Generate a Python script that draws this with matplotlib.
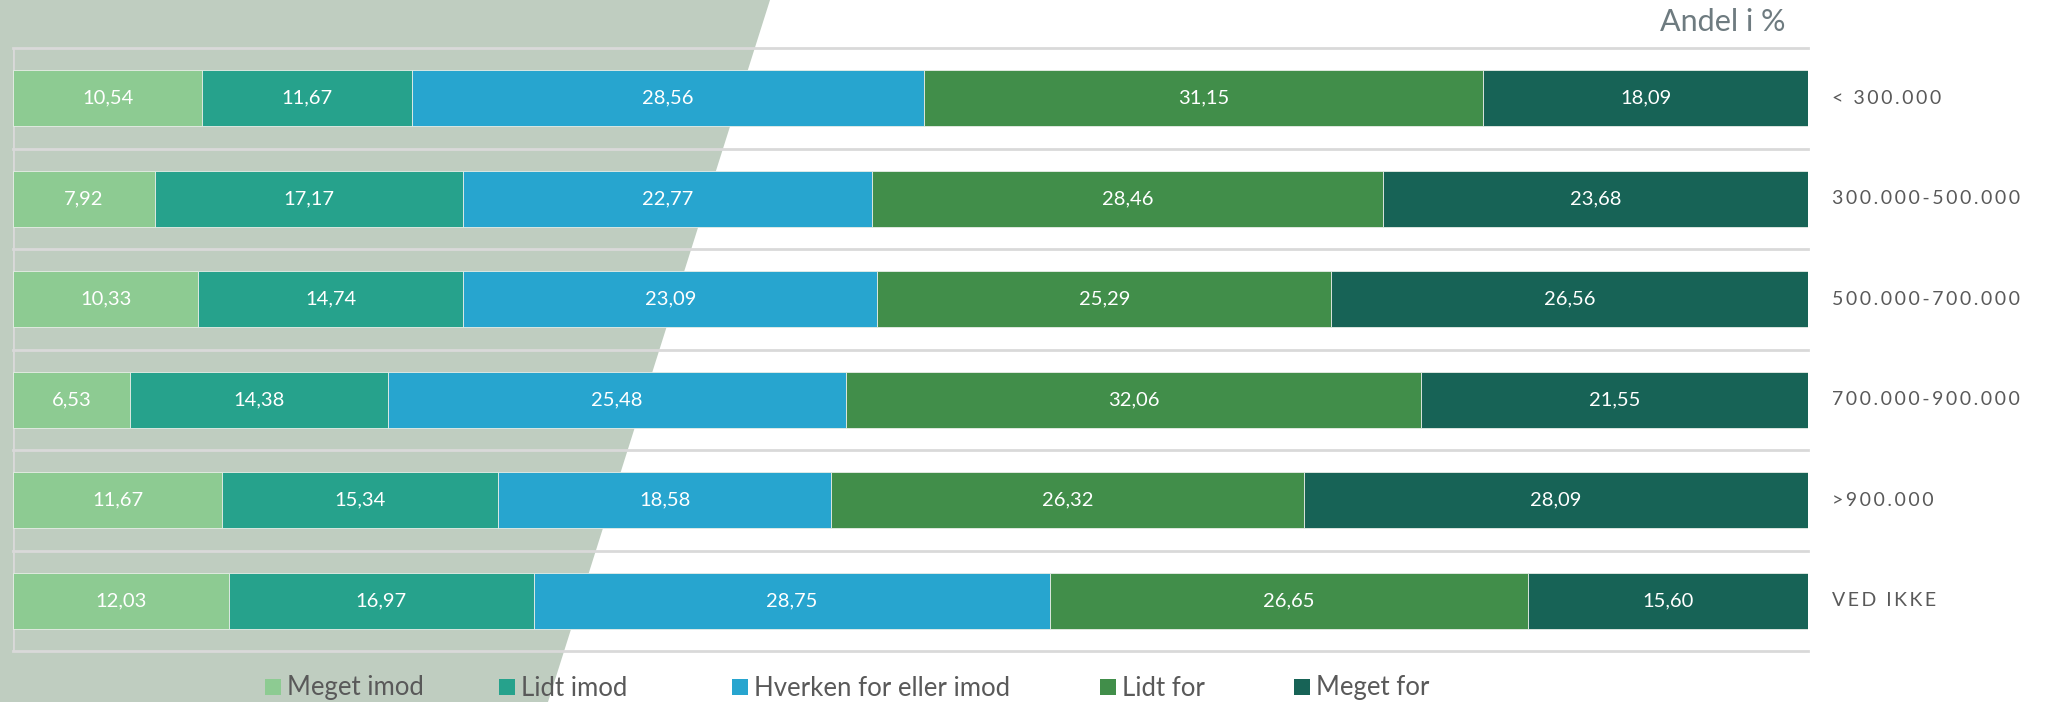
import matplotlib
matplotlib.use("Agg")
import matplotlib.pyplot as plt
from matplotlib.patches import Polygon, Rectangle
import numpy as np

categories = ["< 300.000", "300.000-500.000", "500.000-700.000", "700.000-900.000", ">900.000", "VED IKKE"]
series_names = ["Meget imod", "Lidt imod", "Hverken for eller imod", "Lidt for", "Meget for"]
meget_imod = [10.54, 7.92, 10.33, 6.53, 11.67, 12.03]
lidt_imod = [11.67, 17.17, 14.74, 14.38, 15.34, 16.97]
hverken = [28.56, 22.77, 23.09, 25.48, 18.58, 28.75]
lidt_for = [31.15, 28.46, 25.29, 32.06, 26.32, 26.65]
meget_for = [18.09, 23.68, 26.56, 21.55, 28.09, 15.60]
title = "Andel i %"

series = [meget_imod, lidt_imod, hverken, lidt_for, meget_for]
colors = ["#8DCB92", "#26A28C", "#27A5CF", "#418E4A", "#176356"]

W, H = 2047, 702
fig = plt.figure(figsize=(W / 100, H / 100), dpi=100)
fig.patch.set_facecolor("white")

# background diagonal shape
poly = Polygon([(0, 1), (770 / W, 1), (548 / W, 0), (0, 0)], closed=True,
               transform=fig.transFigure, facecolor="#BFCDC0", edgecolor="none", zorder=0)
fig.patches.append(poly)

ax = fig.add_axes([13 / W, 1 - 651 / H, (1808 - 13) / W, (651 - 48) / H])
ax.set_facecolor("none")
ax.set_zorder(1)

y = np.arange(len(categories))
left = np.zeros(len(categories))
for vals, col, name in zip(series, colors, series_names):
    vals = np.array(vals)
    ax.barh(y, vals, left=left, height=0.56, color=col, edgecolor="#E8EEE8",
            linewidth=0.6, label=name, zorder=3)
    for yi, (l, v) in enumerate(zip(left, vals)):
        ax.text(l + v / 2, yi, f"{v:.2f}".replace(".", ","), ha="center", va="center",
                color="white", fontsize=14.5, family=["Lato", "DejaVu Sans"], zorder=4)
    left = left + vals

ax.set_xlim(0, 100)
ax.set_ylim(len(categories) - 0.5, -0.5)
for k in range(len(categories) + 1):
    ax.axhline(k - 0.5, color="#D9D9D9", linewidth=2, zorder=2, clip_on=False)
ax.axvline(0, color="#D9D9D9", linewidth=2, zorder=2)
for s in ax.spines.values():
    s.set_visible(False)
ax.set_xticks([])
ax.set_yticks([])

# right-side category labels (letter spaced)
for yi, cat in enumerate(categories):
    lab = "\u2009".join(list(cat))
    ax.text(1.0 + (1832 - 1808) / (1808 - 13), yi, lab, transform=ax.get_yaxis_transform(),
            ha="left", va="center", color="#595959", fontsize=14,
            family=["Lato", "DejaVu Sans"])

fig.text(1786 / W, 1 - 22 / H, title, ha="right", va="center", color="#6E7B80",
         fontsize=22, family=["Lato", "DejaVu Sans"])

# legend
leg_x = [265, 499, 732, 1100, 1294]
leg_y = 687
sq = 16
for xpx, name, col in zip(leg_x, series_names, colors):
    fig.patches.append(Rectangle((xpx / W, (H - leg_y - sq / 2) / H), sq / W, sq / H,
                                 transform=fig.transFigure, facecolor=col, edgecolor="none", zorder=2))
    fig.text((xpx + sq + 6) / W, 1 - (leg_y + 1) / H, name, ha="left", va="center",
             color="#595959", fontsize=18.5, family=["Lato", "DejaVu Sans"])

fig.savefig("out.png", dpi=100)
